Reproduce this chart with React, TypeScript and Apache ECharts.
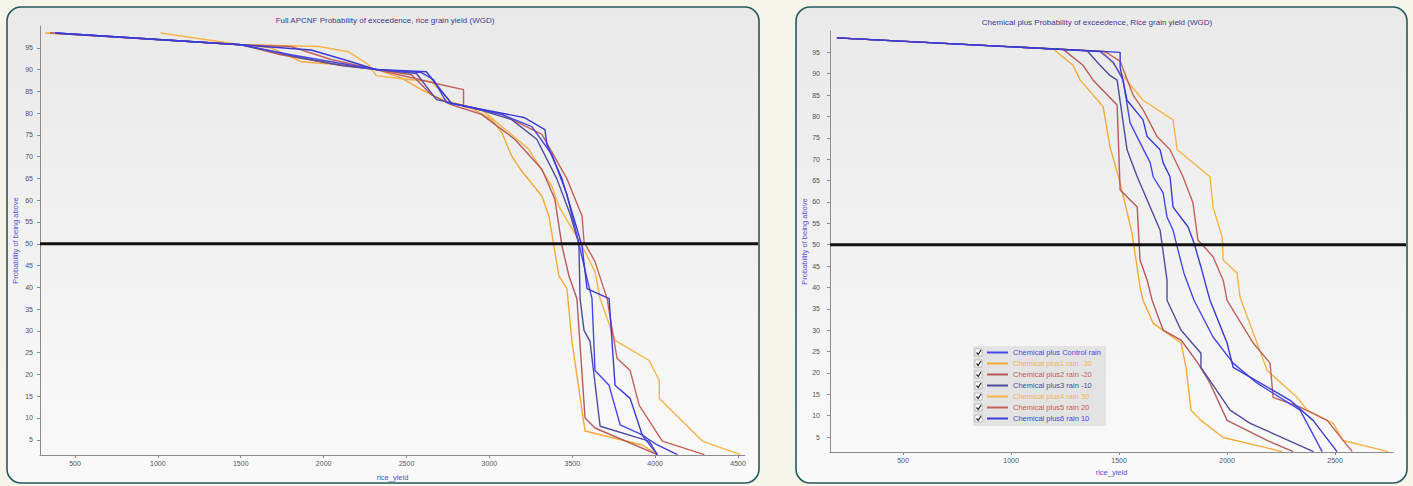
import React, { useEffect, useRef } from 'react';
import * as echarts from 'echarts';

type Pt = [number, number];

// ---------- Left panel: Full APCNF ----------
const LEFT_TITLE = 'Full APCNF Probability of exceedence, rice grain yield (WGD)';
const LEFT_NAMES = [
  'Full APCNF Control rain',
  'Full APCNF1 rain -30',
  'Full APCNF2 rain -20',
  'Full APCNF3 rain -10',
  'Full APCNF4 rain 30',
  'Full APCNF5 rain 20',
  'Full APCNF6 rain 10',
];
const L_CTRL: Pt[] = [[381,98.4],[1501,95.7],[1803,93.4],[2045,91.8],[2318,90.0],[2590,89.3],[2663,87.7],[2742,82.4],[2893,81.3],[3074,79.7],[3256,76.9],[3377,70.5],[3468,61.3],[3540,50.0],[3589,42.0],[3619,37.4],[3637,20.9],[3722,17.5],[3789,8.4],[3922,6.1],[4013,1.6]];
const L_M30: Pt[] = [[320,98.4],[774,97.5],[1501,95.7],[1682,95.0],[1864,91.8],[2064,91.2],[2318,90.0],[2469,88.1],[2590,85.4],[2711,83.1],[2875,81.5],[3014,78.5],[3074,75.6],[3135,70.1],[3195,66.7],[3317,60.9],[3359,56.4],[3389,49.5],[3419,42.6],[3468,39.7],[3498,27.6],[3577,7.0],[3922,3.8],[4013,1.6]];
const L_M20: Pt[] = [[350,98.4],[1501,95.7],[1743,93.4],[2045,91.4],[2318,90.0],[2530,88.8],[2651,84.2],[2772,81.9],[2953,79.7],[3153,74.0],[3317,67.1],[3395,60.2],[3438,49.5],[3480,42.6],[3528,37.4],[3577,10.0],[3637,7.7],[4013,1.6]];
const L_M10: Pt[] = [[381,98.4],[1501,95.7],[1864,92.7],[2106,90.9],[2318,90.0],[2560,89.1],[2681,83.1],[2893,81.3],[3135,78.5],[3286,74.0],[3407,64.9],[3486,56.9],[3540,50.0],[3547,37.4],[3571,30.1],[3607,27.6],[3668,8.1],[3964,4.7],[4013,1.6]];
const L_P30: Pt[] = [[1016,98.4],[1501,95.7],[1973,95.3],[2148,94.1],[2269,91.2],[2318,88.6],[2469,87.9],[2651,87.2],[2772,82.4],[2953,80.8],[3238,71.7],[3377,63.2],[3419,58.6],[3559,49.5],[3637,43.6],[3668,37.4],[3758,27.8],[3964,23.2],[4025,18.6],[4025,14.5],[4285,4.7],[4515,1.6]];
const L_P20: Pt[] = [[350,98.4],[1501,95.7],[1803,95.3],[2045,92.3],[2318,90.0],[2711,86.5],[2844,85.4],[2844,81.5],[3074,79.7],[3317,75.1],[3468,64.9],[3559,56.4],[3571,50.4],[3637,45.9],[3710,37.4],[3770,23.7],[3849,20.9],[3904,12.9],[4043,4.7],[4297,1.6]];
const L_P10: Pt[] = [[381,98.4],[1501,95.7],[1924,94.5],[2166,91.8],[2318,90.0],[2620,89.5],[2681,86.5],[2772,82.2],[3208,79.0],[3335,76.2],[3347,72.8],[3438,64.9],[3528,53.5],[3559,49.5],[3589,39.7],[3722,37.4],[3758,17.5],[3849,14.5],[3922,6.1],[4013,3.8],[4134,1.6]];

// ---------- Right panel: Chemical plus ----------
const RIGHT_TITLE = 'Chemical plus Probability of exceedence, Rice grain yield (WGD)';
const RIGHT_NAMES = [
  'Chemical plus Control rain',
  'Chemical plus1 rain -30',
  'Chemical plus2 rain -20',
  'Chemical plus3 rain -10',
  'Chemical plus4 rain 30',
  'Chemical plus5 rain 20',
  'Chemical plus6 rain 10',
];
const R_CTRL: Pt[] = [[194,98.4],[1412,95.2],[1473,92.7],[1519,88.5],[1551,78.5],[1644,69.2],[1658,65.9],[1704,62.1],[1722,56.5],[1750,53.4],[1769,49.5],[1800,43.4],[1847,37.0],[1935,28.4],[2028,22.3],[2139,17.6],[2338,11.3],[2440,1.6]];
const R_M30: Pt[] = [[194,98.4],[1195,95.8],[1287,92.0],[1320,88.5],[1426,82.3],[1458,72.9],[1505,64.5],[1560,52.7],[1597,40.1],[1611,37.0],[1658,31.6],[1787,27.0],[1810,21.3],[1833,11.3],[1879,8.9],[1982,4.9],[2255,1.6]];
const R_M20: Pt[] = [[194,98.4],[1241,95.7],[1333,92.0],[1380,88.5],[1491,82.7],[1505,62.8],[1584,58.8],[1597,46.4],[1630,41.7],[1653,37.0],[1704,30.0],[1787,27.7],[1865,22.3],[1921,17.6],[2000,8.9],[2185,4.2],[2306,1.6]];
const R_M10: Pt[] = [[194,98.4],[1352,95.4],[1412,92.0],[1458,89.6],[1491,88.5],[1537,72.2],[1584,65.9],[1644,58.8],[1690,53.4],[1722,41.7],[1722,37.0],[1787,30.0],[1879,24.6],[1879,21.3],[2014,11.3],[2107,8.2],[2400,1.6]];
const R_P30: Pt[] = [[194,98.4],[1426,95.2],[1611,83.8],[1750,79.2],[1769,72.2],[1921,65.9],[1935,58.8],[1977,51.8],[1982,46.4],[2046,43.4],[2060,37.7],[2185,20.6],[2324,14.3],[2371,11.3],[2491,8.2],[2537,4.2],[2746,1.6]];
const R_P20: Pt[] = [[194,98.4],[1435,95.2],[1505,92.9],[1565,85.0],[1611,81.6],[1676,75.3],[1736,72.2],[1796,65.9],[1842,59.8],[1865,51.1],[1935,47.2],[1982,41.7],[2000,37.0],[2121,27.0],[2199,22.3],[2213,14.3],[2338,12.0],[2463,8.9],[2579,1.6]];
const R_P10: Pt[] = [[194,98.4],[1505,95.0],[1505,91.5],[1537,83.8],[1611,79.2],[1630,75.3],[1690,72.2],[1704,69.2],[1736,65.9],[1750,58.8],[1819,54.2],[1847,50.4],[1879,44.8],[1912,38.6],[1921,37.0],[2000,27.0],[2028,21.3],[2292,13.6],[2398,8.9],[2509,1.6]];

// ---------- Axes ----------
const Y_TICKS = [5, 10, 15, 20, 25, 30, 35, 40, 45, 50, 55, 60, 65, 70, 75, 80, 85, 90, 95];
const LEFT_X_TICKS = [500, 1000, 1500, 2000, 2500, 3000, 3500, 4000, 4500];
const RIGHT_X_TICKS = [500, 1000, 1500, 2000, 2500];
const Y_MIN = 1.5;
const Y_MAX = 100;
const LEFT_X_MIN = 289;
const LEFT_X_MAX = 4542;
const RIGHT_X_MIN = 162;
const RIGHT_X_MAX = 2768;
const THRESHOLD = 50;

const X_NAME = 'rice_yield';
const Y_NAME = 'Probability of being above';

// colours: control, -30, -20, -10, +30, +20, +10
const COLORS = ['#4747e6', '#f4a938', '#b65a5c', '#4f4c9e', '#f6b448', '#c4625a', '#3a3ad6'];
const LEGEND_TEXT = ['#4a4ae0', '#f2b45a', '#c0605c', '#4b4b9c', '#f2b45a', '#cc5e50', '#4545d8'];

const FONT = '"Liberation Sans", Arial, sans-serif';

const LEFT_SETS = [L_CTRL, L_M30, L_M20, L_M10, L_P30, L_P20, L_P10];
const RIGHT_SETS = [R_CTRL, R_M30, R_M20, R_M10, R_P30, R_P20, R_P10];
const DRAW_ORDER = [1, 4, 2, 5, 3, 0, 6];

const LEGEND_LEFT = 973;
const LEGEND_TOP = 346;
const LEGEND_ROW = 11;

function axisPair(gridIndex: number, xmin: number, xmax: number, xticks: number[], yMargin: number, xGap: number, yGap: number) {
  const lineColor = '#8c8c8c';
  const x = {
    type: 'value', gridIndex, min: xmin, max: xmax,
    name: X_NAME, nameLocation: 'middle', nameGap: xGap,
    nameTextStyle: { color: '#5252d6', fontSize: 7.5, fontFamily: FONT },
    axisLine: { show: true, lineStyle: { color: lineColor, width: 1 } },
    axisTick: { show: true, length: 3, customValues: xticks, lineStyle: { color: lineColor } },
    axisLabel: { customValues: xticks, fontSize: 7, color: '#555', margin: 5, fontFamily: FONT, formatter: (v: number) => String(v) },
    splitLine: { show: false },
  };
  const y = {
    type: 'value', gridIndex, min: Y_MIN, max: Y_MAX,
    name: Y_NAME, nameLocation: 'middle', nameGap: yGap, nameRotate: 90,
    nameTextStyle: { color: '#5252d6', fontSize: 7.5, fontFamily: FONT },
    axisLine: { show: true, lineStyle: { color: lineColor, width: 1 } },
    axisTick: { show: true, length: 3, customValues: Y_TICKS, lineStyle: { color: lineColor } },
    axisLabel: { customValues: Y_TICKS, fontSize: 7, color: '#555', margin: yMargin, fontFamily: FONT, formatter: (v: number) => String(v) },
    splitLine: { show: false },
  };
  return { x, y };
}

export default function App() {
  const ref = useRef<HTMLDivElement>(null);
  useEffect(() => {
    if (!ref.current) return;
    const chart = echarts.init(ref.current, null, { renderer: 'svg' });
    const la = axisPair(0, LEFT_X_MIN, LEFT_X_MAX, LEFT_X_TICKS, 7, 18, 21);
    const ra = axisPair(1, RIGHT_X_MIN, RIGHT_X_MAX, RIGHT_X_TICKS, 10, 16, 19);

    const series: any[] = [];
    DRAW_ORDER.forEach((i) => {
      series.push({
        type: 'line', name: LEFT_NAMES[i], xAxisIndex: 0, yAxisIndex: 0,
        data: LEFT_SETS[i], showSymbol: false, symbol: 'none',
        lineStyle: { color: COLORS[i], width: 1.4 }, itemStyle: { color: COLORS[i] },
      });
    });
    DRAW_ORDER.forEach((i) => {
      series.push({
        type: 'line', name: RIGHT_NAMES[i], xAxisIndex: 1, yAxisIndex: 1,
        data: RIGHT_SETS[i], showSymbol: false, symbol: 'none',
        lineStyle: { color: COLORS[i], width: 1.4 }, itemStyle: { color: COLORS[i] },
      });
    });

    chart.setOption({
      animation: false,
      title: [
        { text: LEFT_TITLE, left: 380, top: 11, textAlign: 'center', textStyle: { fontSize: 8, color: '#3c3c8e', fontWeight: 'normal', fontFamily: FONT } },
        { text: RIGHT_TITLE, left: 1092, top: 13, textAlign: 'center', textStyle: { fontSize: 8, color: '#3c3c8e', fontWeight: 'normal', fontFamily: FONT } },
      ],
      grid: [
        { left: 40, top: 26, width: 705, height: 431 },
        { left: 830, top: 31, width: 563, height: 421 },
      ],
      xAxis: [la.x, ra.x],
      yAxis: [la.y, ra.y],
      legend: {
        show: true, orient: 'vertical', left: LEGEND_LEFT, top: LEGEND_TOP,
        padding: [1, 5, 2, 14], itemGap: 0, itemWidth: 21, itemHeight: 2, icon: 'rect',
        backgroundColor: '#e3e3e3', selectedMode: false,
        textStyle: { fontSize: 7.5, lineHeight: LEGEND_ROW, fontFamily: FONT },
        data: RIGHT_NAMES.map((n, i) => ({ name: n, textStyle: { color: LEGEND_TEXT[i] } })),
      },
      series,
    });

    const pL0 = chart.convertToPixel({ gridIndex: 0 } as any, [LEFT_X_MIN, THRESHOLD]) as number[];
    const pR0 = chart.convertToPixel({ gridIndex: 1 } as any, [RIGHT_X_MIN, THRESHOLD]) as number[];

    const panelFill = {
      type: 'linear', x: 0, y: 0, x2: 0, y2: 1,
      colorStops: [{ offset: 0, color: '#e9e9e9' }, { offset: 1, color: '#fafafa' }],
    };
    const graphic: any[] = [
      { type: 'rect', id: 'pl', z: -10, shape: { x: 7, y: 7, width: 752, height: 476, r: 14 }, style: { fill: panelFill, stroke: '#245a5c', lineWidth: 1.6 } },
      { type: 'rect', id: 'pr', z: -10, shape: { x: 796, y: 7, width: 611, height: 476, r: 14 }, style: { fill: panelFill, stroke: '#245a5c', lineWidth: 1.6 } },
      { type: 'line', id: 'tl', z: 50, shape: { x1: pL0[0], y1: pL0[1], x2: 758, y2: pL0[1] }, style: { stroke: '#111', lineWidth: 3 } },
      { type: 'line', id: 'tr', z: 50, shape: { x1: pR0[0], y1: pR0[1], x2: 1406, y2: pR0[1] }, style: { stroke: '#111', lineWidth: 3 } },
    ];
    for (let i = 0; i < RIGHT_NAMES.length; i++) {
      const cy = LEGEND_TOP + 1 + LEGEND_ROW / 2 + i * LEGEND_ROW;
      graphic.push({ type: 'rect', id: 'cb' + i, z: 60, shape: { x: 975, y: cy - 3.5, width: 7, height: 7 }, style: { fill: '#fff', stroke: '#999', lineWidth: 0.6 } });
      graphic.push({ type: 'polyline', id: 'ck' + i, z: 61, shape: { points: [[976.5, cy], [978.2, cy + 2], [981, cy - 2.5]] }, style: { stroke: '#222', lineWidth: 1.2, fill: null } });
    }
    chart.setOption({ graphic });

    return () => chart.dispose();
  }, []);
  return (
    <div style={{ position: 'fixed', left: 0, top: 0, width: 1413, height: 486, background: '#f6f5e9' }}>
      <div ref={ref} style={{ width: 1413, height: 486 }} />
    </div>
  );
}
